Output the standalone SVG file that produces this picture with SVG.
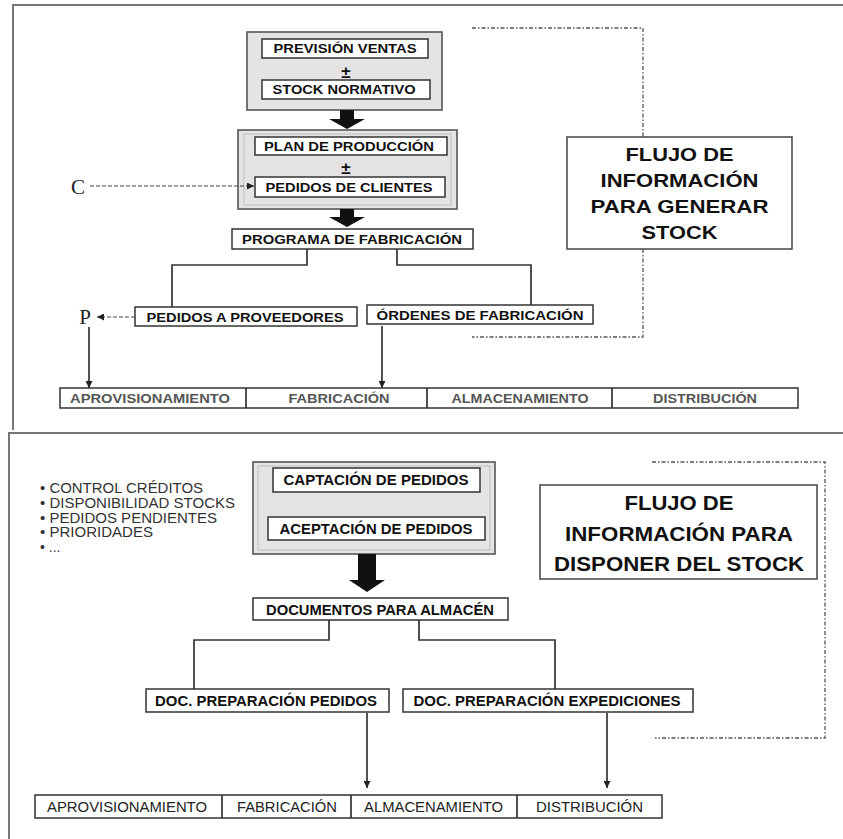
<svg xmlns="http://www.w3.org/2000/svg" width="843" height="839" viewBox="0 0 843 839">
<defs>
<style>
.frame{fill:none;stroke:#777;stroke-width:2}
.gray{fill:#e4e4e4;stroke:#555;stroke-width:1.6}
.bevel{fill:none;stroke:#bdbdbd;stroke-width:1}
.box{fill:#fff;stroke:#333;stroke-width:1.5}
.flujo{fill:#fff;stroke:#444;stroke-width:1.5}
.lb{font-family:"Liberation Sans",Arial,sans-serif;font-weight:bold;text-anchor:middle;fill:#111}
.row1{font-family:"Liberation Sans",Arial,sans-serif;font-weight:bold;font-size:13px;text-anchor:middle;fill:#555}
.row2{font-family:"Liberation Sans",Arial,sans-serif;font-size:15px;text-anchor:middle;fill:#222}
.bul{font-family:"Liberation Sans",Arial,sans-serif;font-size:14px;fill:#333}
.ser{font-family:"Liberation Serif","Times New Roman",serif;font-size:21px;text-anchor:middle;fill:#222}
.ln{fill:none;stroke:#333;stroke-width:1.7}
.dash{fill:none;stroke:#444;stroke-width:1.2;stroke-dasharray:4 2}
.dd{fill:none;stroke:#555;stroke-width:1.3;stroke-dasharray:4 2 1.5 2}
.big{fill:#111}
</style>
<marker id="ah" viewBox="0 0 8 8" refX="8" refY="4" markerWidth="7" markerHeight="7" markerUnits="userSpaceOnUse" orient="auto">
<path d="M0,0 L8,4 L0,8 z" fill="#222"/>
</marker>
</defs>

<g id="frames">
<path class="frame" d="M13,430 V5 H843"/>
<path class="frame" d="M9,839 V433 H843"/>
</g>

<g id="prevision-stock">
<rect class="gray" x="247" y="32" width="195" height="78"/>
<rect class="box" x="262" y="39" width="166" height="19"/>
<text class="lb" x="345" y="53" font-size="12.5" textLength="143" lengthAdjust="spacingAndGlyphs">PREVISIÓN VENTAS</text>
<text class="lb" x="346" y="78" font-size="17">±</text>
<rect class="box" x="262" y="80" width="168" height="19"/>
<text class="lb" x="344" y="94" font-size="12.5" textLength="143" lengthAdjust="spacingAndGlyphs">STOCK NORMATIVO</text>
</g>

<g id="plan-pedidos">
<rect class="gray" x="238" y="130" width="219" height="79"/>
<rect class="bevel" x="244" y="134" width="207" height="71"/>
<rect class="box" x="255" y="137" width="192" height="18"/>
<text class="lb" x="349" y="150.5" font-size="12.5" textLength="170" lengthAdjust="spacingAndGlyphs">PLAN DE PRODUCCIÓN</text>
<text class="lb" x="346" y="173.5" font-size="17">±</text>
<rect class="box" x="255" y="177" width="190" height="20"/>
<text class="lb" x="349" y="191.5" font-size="12.5" textLength="167" lengthAdjust="spacingAndGlyphs">PEDIDOS DE CLIENTES</text>
</g>

<g id="c-label"><text class="ser" x="78" y="194">C</text></g>
<g id="p-label"><text class="ser" x="85" y="324">P</text></g>

<g id="programa">
<rect class="box" x="232" y="229" width="241" height="20"/>
<text class="lb" x="352" y="243.5" font-size="12.5" textLength="220" lengthAdjust="spacingAndGlyphs">PROGRAMA DE FABRICACIÓN</text>
</g>

<g id="pedidos-proveedores">
<rect class="box" x="135" y="307" width="222" height="19"/>
<text class="lb" x="245" y="321.5" font-size="12.5" textLength="197" lengthAdjust="spacingAndGlyphs">PEDIDOS A PROVEEDORES</text>
</g>

<g id="ordenes">
<rect class="box" x="367" y="305" width="226" height="19"/>
<text class="lb" x="480" y="319.5" font-size="12.5" textLength="207" lengthAdjust="spacingAndGlyphs">ÓRDENES DE FABRICACIÓN</text>
</g>

<g id="row-top">
<rect class="box" x="60" y="388" width="738" height="20"/>
<path class="ln" d="M246,388 V408 M427,388 V408 M612,388 V408"/>
<text class="row1" x="150" y="403" textLength="160" lengthAdjust="spacingAndGlyphs">APROVISIONAMIENTO</text>
<text class="row1" x="339" y="403" textLength="101" lengthAdjust="spacingAndGlyphs">FABRICACIÓN</text>
<text class="row1" x="520" y="403" textLength="137" lengthAdjust="spacingAndGlyphs">ALMACENAMIENTO</text>
<text class="row1" x="705" y="403" textLength="104" lengthAdjust="spacingAndGlyphs">DISTRIBUCIÓN</text>
</g>

<g id="flujo-generar">
<rect class="flujo" x="567" y="137" width="225" height="112"/>
<text class="lb" x="679.5" y="160.5" font-size="18" textLength="108" lengthAdjust="spacingAndGlyphs">FLUJO DE</text>
<text class="lb" x="679.5" y="186.5" font-size="18" textLength="158" lengthAdjust="spacingAndGlyphs">INFORMACIÓN</text>
<text class="lb" x="679.5" y="212.5" font-size="18" textLength="178" lengthAdjust="spacingAndGlyphs">PARA GENERAR</text>
<text class="lb" x="679.5" y="238.5" font-size="18" textLength="76" lengthAdjust="spacingAndGlyphs">STOCK</text>
</g>

<g id="bullets">
<text class="bul" x="40" y="493" textLength="163" lengthAdjust="spacingAndGlyphs">• CONTROL CRÉDITOS</text>
<text class="bul" x="40" y="508" textLength="195" lengthAdjust="spacingAndGlyphs">• DISPONIBILIDAD STOCKS</text>
<text class="bul" x="40" y="522.5" textLength="177" lengthAdjust="spacingAndGlyphs">• PEDIDOS PENDIENTES</text>
<text class="bul" x="40" y="537" textLength="113" lengthAdjust="spacingAndGlyphs">• PRIORIDADES</text>
<text class="bul" x="40" y="552">• ...</text>
</g>

<g id="captacion-aceptacion">
<rect class="gray" x="253" y="462" width="242" height="92"/>
<rect class="bevel" x="258" y="466" width="232" height="84"/>
<rect class="box" x="273" y="468" width="207" height="24"/>
<text class="lb" x="376" y="485" font-size="14.5" textLength="185" lengthAdjust="spacingAndGlyphs">CAPTACIÓN DE PEDIDOS</text>
<rect class="box" x="268" y="517" width="217" height="23"/>
<text class="lb" x="376" y="533.5" font-size="14.5" textLength="193" lengthAdjust="spacingAndGlyphs">ACEPTACIÓN DE PEDIDOS</text>
</g>

<g id="documentos">
<rect class="box" x="253" y="598" width="255" height="22"/>
<text class="lb" x="380" y="614.5" font-size="14.5" textLength="228" lengthAdjust="spacingAndGlyphs">DOCUMENTOS PARA ALMACÉN</text>
</g>

<g id="doc-pedidos">
<rect class="box" x="146" y="689" width="243" height="23"/>
<text class="lb" x="266" y="705.5" font-size="14.5" textLength="222" lengthAdjust="spacingAndGlyphs">DOC. PREPARACIÓN PEDIDOS</text>
</g>

<g id="doc-expediciones">
<rect class="box" x="403" y="689" width="290" height="23"/>
<text class="lb" x="547" y="705.5" font-size="14.5" textLength="267" lengthAdjust="spacingAndGlyphs">DOC. PREPARACIÓN EXPEDICIONES</text>
</g>

<g id="row-bottom">
<rect class="box" x="35" y="795" width="627" height="23"/>
<path class="ln" d="M222,795 V818 M351,795 V818 M517,795 V818"/>
<text class="row2" x="127" y="812" textLength="160" lengthAdjust="spacingAndGlyphs">APROVISIONAMIENTO</text>
<text class="row2" x="287" y="812" textLength="100" lengthAdjust="spacingAndGlyphs">FABRICACIÓN</text>
<text class="row2" x="433.5" y="812" textLength="139" lengthAdjust="spacingAndGlyphs">ALMACENAMIENTO</text>
<text class="row2" x="589.5" y="812" textLength="107" lengthAdjust="spacingAndGlyphs">DISTRIBUCIÓN</text>
</g>

<g id="flujo-disponer">
<rect class="flujo" x="540" y="485" width="277" height="94"/>
<text class="lb" x="679" y="509.5" font-size="20" textLength="109" lengthAdjust="spacingAndGlyphs">FLUJO DE</text>
<text class="lb" x="679" y="540.5" font-size="20" textLength="228" lengthAdjust="spacingAndGlyphs">INFORMACIÓN PARA</text>
<text class="lb" x="679" y="570.5" font-size="20" textLength="250" lengthAdjust="spacingAndGlyphs">DISPONER DEL STOCK</text>
</g>

<g id="connectors">
<path class="dd" d="M472,28 H643 V137 M643,249 V337 H472"/>
<path class="dd" d="M652,462 H825 V738 H655"/>
<polygon class="big" points="340,110 354,110 354,119 365,119 347,129 329,119 340,119"/>
<polygon class="big" points="340,209 354,209 354,217 365,217 347,227 329,217 340,217"/>
<path class="ln" d="M307,249 V265 H172 V307"/>
<path class="ln" d="M397,249 V265 H531 V305"/>
<path class="dash" d="M90,186 H254" marker-end="url(#ah)"/>
<path class="dash" d="M135,317 H97" marker-end="url(#ah)"/>
<path class="ln" d="M89,327 V388" marker-end="url(#ah)"/>
<path class="ln" d="M382,326 V388" marker-end="url(#ah)"/>
<polygon class="big" points="358,554 376,554 376,580 385,580 367,592 349,580 358,580"/>
<path class="ln" d="M329,620 V640 H194 V689"/>
<path class="ln" d="M419,620 V640 H555 V689"/>
<path class="ln" d="M367,713 V788" marker-end="url(#ah)"/>
<path class="ln" d="M607,713 V788" marker-end="url(#ah)"/>
</g>
</svg>
